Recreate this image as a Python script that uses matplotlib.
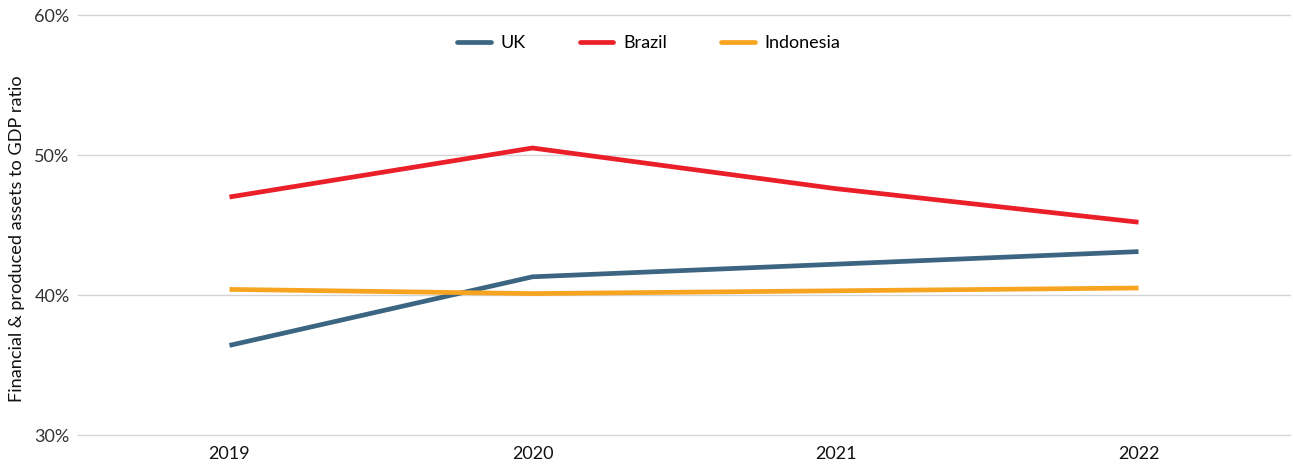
import matplotlib
matplotlib.use("Agg")
import matplotlib.pyplot as plt
from matplotlib.ticker import FuncFormatter

plt.rcParams['font.family'] = ['Lato', 'DejaVu Sans']

years = ["2019", "2020", "2021", "2022"]
uk = [36.4, 41.3, 42.2, 43.1]
brazil = [47.0, 50.5, 47.6, 45.2]
indonesia = [40.4, 40.1, 40.3, 40.5]
yticks = [30, 40, 50, 60]

W, H = 1293, 468
fig = plt.figure(figsize=(W/100, H/100), dpi=100)
ax = fig.add_axes([78/W, 1-435/H, (1290-78)/W, (435-15)/H])

x = [i + 0.5 for i in range(len(years))]
ax.plot(x, uk, color="#3b6580", lw=3.4, label="UK", solid_capstyle="butt")
ax.plot(x, brazil, color="#ea1f2a", lw=3.4, label="Brazil", solid_capstyle="butt")
ax.plot(x, indonesia, color="#f7a520", lw=3.4, label="Indonesia", solid_capstyle="butt")

ax.set_xlim(0, len(years))
ax.set_ylim(30, 60)
ax.set_xticks(x)
ax.set_xticklabels(years, fontsize=13, color="#111111")
ax.set_yticks(yticks)
ax.yaxis.set_major_formatter(FuncFormatter(lambda v, p: f"{v:.0f}%"))
ax.tick_params(axis='y', labelsize=13, labelcolor="#333333", length=0, pad=6)
ax.tick_params(axis='x', length=0, pad=8)
ax.grid(axis='y', color="#d4d4d4", lw=1)
for gl in ax.get_ygridlines():
    gl.set_clip_on(False)
ax.set_axisbelow(True)
for s in ax.spines.values():
    s.set_visible(False)

ax.set_ylabel("Financial & produced assets to GDP ratio", fontsize=13.1, color="#111111")
ax.yaxis.set_label_coords(-0.0435, 0.467)

leg = ax.legend(loc="center", bbox_to_anchor=(0.471, 0.933), ncol=3, frameon=False,
                fontsize=13, handlelength=1.85, columnspacing=3.0, handletextpad=0.55)
for h in leg.get_lines():
    h.set_solid_capstyle("round")

fig.savefig("out.png", dpi=100)
